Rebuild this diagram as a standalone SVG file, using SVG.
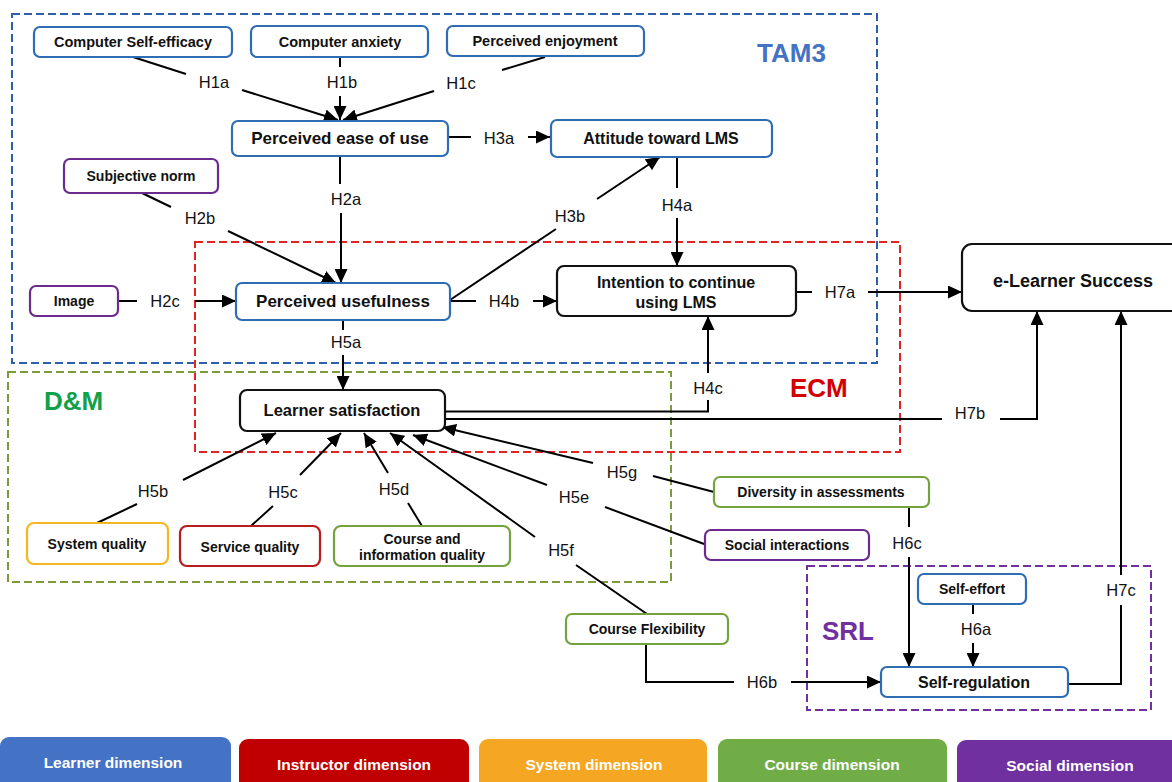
<svg xmlns="http://www.w3.org/2000/svg" width="1172" height="782" viewBox="0 0 1172 782">
<defs>
<marker id="ah" markerUnits="userSpaceOnUse" markerWidth="15" markerHeight="13" refX="14" refY="6.5" orient="auto">
<path d="M0,0 L14,6.5 L0,13 Z" fill="#000"/>
</marker>
<style>
.node{fill:#fff;stroke-width:2.2}
.blue{stroke:#2E6DB4}
.purple{stroke:#6A2A8E}
.black{stroke:#111}
.yellow{stroke:#F2B824}
.red{stroke:#B81C1C}
.green{stroke:#73A33E}
.nt{font-family:"Liberation Sans",Arial,sans-serif;font-weight:bold;fill:#111;text-anchor:middle}
.lbl{font-family:"Liberation Sans",Arial,sans-serif;font-size:16.5px;fill:#111;text-anchor:middle}
.con{fill:none;stroke:#000;stroke-width:2}
.grp{fill:none;stroke-width:2;stroke-dasharray:8 4}
.gt{font-family:"Liberation Sans",Arial,sans-serif;font-weight:bold;font-size:26px}
.leg{font-family:"Liberation Sans",Arial,sans-serif;font-weight:bold;font-size:15.5px;fill:#fff;text-anchor:middle}
</style>
</defs>
<rect width="1172" height="782" fill="#fff"/>

<g id="groups">
<rect class="grp" x="12" y="14" width="865" height="349" stroke="#2E5FAA"/>
<rect class="grp" x="195" y="242" width="705" height="210" stroke="#E02525"/>
<rect class="grp" x="8" y="372" width="663" height="210" stroke="#7E9B3C"/>
<rect class="grp" x="807" y="566" width="344" height="144" stroke="#7030A0"/>
<text class="gt" x="757" y="62" fill="#4472C4">TAM3</text>
<text class="gt" x="790" y="397" fill="#D40000">ECM</text>
<text class="gt" x="44" y="410" fill="#13A04A">D&amp;M</text>
<text class="gt" x="822" y="640" fill="#7030A0">SRL</text>
</g>

<g id="connectors">
<polyline class="con" points="133,57 186,74"/><polyline class="con" points="242,90 338,120" marker-end="url(#ah)"/>
<polyline class="con" points="340,57 340,67"/><polyline class="con" points="340,96 340,120" marker-end="url(#ah)"/>
<polyline class="con" points="545,57 502,70"/><polyline class="con" points="434,91 343,120" marker-end="url(#ah)"/>
<polyline class="con" points="448,137 471,137"/><polyline class="con" points="528,137 550,137" marker-end="url(#ah)"/>
<polyline class="con" points="340,156 340,184"/><polyline class="con" points="341,213 341,283" marker-end="url(#ah)"/>
<polyline class="con" points="142,193 171,207"/><polyline class="con" points="228,231 336,283" marker-end="url(#ah)"/>
<polyline class="con" points="118,301 137,301"/><polyline class="con" points="195,301 236,301" marker-end="url(#ah)"/>
<polyline class="con" points="450,300 556,229"/><polyline class="con" points="597,199 660,157" marker-end="url(#ah)"/>
<polyline class="con" points="450,301 476,301"/><polyline class="con" points="533,301 557,301" marker-end="url(#ah)"/>
<polyline class="con" points="677,157 677,188"/><polyline class="con" points="677,218 677,266" marker-end="url(#ah)"/>
<polyline class="con" points="796,292 812,292"/><polyline class="con" points="868,292 962,292" marker-end="url(#ah)"/>
<polyline class="con" points="343,320 343,330"/><polyline class="con" points="343,355 343,390" marker-end="url(#ah)"/>
<polyline class="con" points="445,411.5 708,411.5 708,400"/><polyline class="con" points="708,373 708,316" marker-end="url(#ah)"/>
<polyline class="con" points="445,419 942,419"/><polyline class="con" points="1000,419 1037,419 1037,311" marker-end="url(#ah)"/>
<polyline class="con" points="97,523 137,504"/><polyline class="con" points="183,480 276,433" marker-end="url(#ah)"/>
<polyline class="con" points="251,526 273,506"/><polyline class="con" points="300,475 341,433" marker-end="url(#ah)"/>
<polyline class="con" points="422,526 408,503"/><polyline class="con" points="388,473 364,433" marker-end="url(#ah)"/>
<polyline class="con" points="647,614 576,565"/><polyline class="con" points="535,537 390,433" marker-end="url(#ah)"/>
<polyline class="con" points="704,544 605,507"/><polyline class="con" points="547,485 413,435" marker-end="url(#ah)"/>
<polyline class="con" points="714,492 653,476"/><polyline class="con" points="593,463 442,427" marker-end="url(#ah)"/>
<polyline class="con" points="973,604 973,614"/><polyline class="con" points="973,643 973,667" marker-end="url(#ah)"/>
<polyline class="con" points="909,507 909,527"/><polyline class="con" points="909,557 909,667" marker-end="url(#ah)"/>
<polyline class="con" points="646,644 646,682 734,682"/><polyline class="con" points="791,682 881,682" marker-end="url(#ah)"/>
<polyline class="con" points="1068,684 1121,684 1121,605"/><polyline class="con" points="1121,575 1121,311" marker-end="url(#ah)"/>
<text class="lbl" x="214" y="88">H1a</text>
<text class="lbl" x="342" y="88">H1b</text>
<text class="lbl" x="461" y="89">H1c</text>
<text class="lbl" x="499" y="144">H3a</text>
<text class="lbl" x="346" y="205">H2a</text>
<text class="lbl" x="200" y="224">H2b</text>
<text class="lbl" x="165" y="307">H2c</text>
<text class="lbl" x="570" y="222">H3b</text>
<text class="lbl" x="504" y="307">H4b</text>
<text class="lbl" x="677" y="211">H4a</text>
<text class="lbl" x="840" y="298">H7a</text>
<text class="lbl" x="346" y="348">H5a</text>
<text class="lbl" x="708" y="394">H4c</text>
<text class="lbl" x="970" y="419">H7b</text>
<text class="lbl" x="153" y="497">H5b</text>
<text class="lbl" x="283" y="498">H5c</text>
<text class="lbl" x="394" y="495">H5d</text>
<text class="lbl" x="561" y="556">H5f</text>
<text class="lbl" x="574" y="503">H5e</text>
<text class="lbl" x="622" y="478">H5g</text>
<text class="lbl" x="976" y="635">H6a</text>
<text class="lbl" x="907" y="549">H6c</text>
<text class="lbl" x="762" y="688">H6b</text>
<text class="lbl" x="1121" y="596">H7c</text>
</g>

<g id="cse"><rect class="node blue" x="34" y="27" width="198" height="30" rx="6"/><text class="nt" x="133" y="47" font-size="14.5">Computer Self-efficacy</text></g>
<g id="ca"><rect class="node blue" x="251" y="26" width="177" height="31" rx="6"/><text class="nt" x="340" y="47" font-size="14.5">Computer anxiety</text></g>
<g id="pe"><rect class="node blue" x="447" y="26" width="197" height="30" rx="6"/><text class="nt" x="545" y="46" font-size="14.5">Perceived enjoyment</text></g>
<g id="peou"><rect class="node blue" x="232" y="121" width="216" height="35" rx="6"/><text class="nt" x="340" y="144" font-size="17">Perceived ease of use</text></g>
<g id="att"><rect class="node blue" x="551" y="120" width="221" height="37" rx="6"/><text class="nt" x="661" y="144" font-size="16">Attitude toward LMS</text></g>
<g id="sn"><rect class="node purple" x="64" y="159" width="154" height="34" rx="6"/><text class="nt" x="141" y="181" font-size="14">Subjective norm</text></g>
<g id="img"><rect class="node purple" x="30" y="286" width="88" height="30" rx="6"/><text class="nt" x="74" y="306" font-size="14">Image</text></g>
<g id="pu"><rect class="node blue" x="236" y="283" width="214" height="37" rx="6"/><text class="nt" x="343" y="307" font-size="17">Perceived usefulness</text></g>
<g id="int"><rect class="node black" x="557" y="266" width="239" height="50" rx="7"/><text class="nt" x="676" y="288" font-size="16">Intention to continue</text><text class="nt" x="676" y="308" font-size="16">using LMS</text></g>
<g id="els"><rect class="node black" x="962" y="244" width="225" height="67" rx="10"/><text class="nt" x="1073" y="287" font-size="18">e-Learner Success</text></g>
<g id="ls"><rect class="node black" x="240" y="390" width="205" height="41" rx="7"/><text class="nt" x="342" y="416" font-size="16.5">Learner satisfaction</text></g>
<g id="sq"><rect class="node yellow" x="27" y="523" width="141" height="41" rx="7"/><text class="nt" x="97" y="549" font-size="14">System quality</text></g>
<g id="svq"><rect class="node red" x="180" y="526" width="140" height="40" rx="7"/><text class="nt" x="250" y="552" font-size="14">Service quality</text></g>
<g id="ciq"><rect class="node green" x="334" y="526" width="176" height="40" rx="7"/><text class="nt" x="422" y="544" font-size="14">Course and</text><text class="nt" x="422" y="560" font-size="14">information quality</text></g>
<g id="div"><rect class="node green" x="714" y="477" width="215" height="30" rx="6"/><text class="nt" x="821" y="497" font-size="14">Diversity in assessments</text></g>
<g id="si"><rect class="node purple" x="705" y="530" width="164" height="30" rx="6"/><text class="nt" x="787" y="550" font-size="14">Social interactions</text></g>
<g id="cf"><rect class="node green" x="566" y="614" width="162" height="30" rx="6"/><text class="nt" x="647" y="634" font-size="14">Course Flexibility</text></g>
<g id="se"><rect class="node blue" x="918" y="574" width="108" height="30" rx="6"/><text class="nt" x="972" y="594" font-size="14">Self-effort</text></g>
<g id="sr"><rect class="node blue" x="881" y="667" width="187" height="30" rx="6"/><text class="nt" x="974" y="688" font-size="16">Self-regulation</text></g>

<g id="legend">
<rect x="0" y="737" width="231" height="60" rx="9" fill="#4472C4"/><text class="leg" x="113" y="768">Learner dimension</text>
<rect x="239" y="739" width="230" height="60" rx="9" fill="#C00000"/><text class="leg" x="354" y="770">Instructor dimension</text>
<rect x="479" y="739" width="228" height="60" rx="9" fill="#F5A623"/><text class="leg" x="594" y="770">System dimension</text>
<rect x="718" y="739" width="229" height="60" rx="9" fill="#70AD47"/><text class="leg" x="832" y="770">Course dimension</text>
<rect x="957" y="740" width="225" height="60" rx="9" fill="#7030A0"/><text class="leg" x="1070" y="771">Social dimension</text>
</g>
</svg>
